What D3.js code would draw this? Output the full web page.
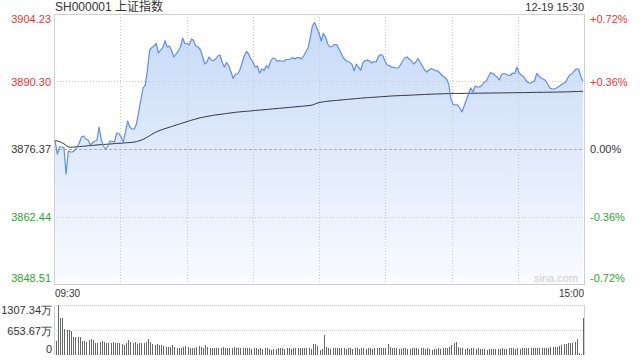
<!DOCTYPE html>
<html>
<head>
<meta charset="utf-8">
<script src="https://cdn.jsdelivr.net/npm/d3@7"></script>
<style>
  body { margin: 0; background: #fff; }
  svg { display: block; font-family: Arial, "Liberation Sans", "Noto Sans CJK SC", sans-serif; }
</style>
</head>
<body>
<div id="chart"></div>
<script>
// header / ticks
const symbolName = 'SH000001 上证指数';
const stamp = '12-19 15:30';
const prevClose = 3876.37;
const timeLabels = ['09:30', '15:00'];
const priceTicks = [3904.23, 3890.30, 3876.37, 3862.44, 3848.51];
const pctTicks = ['+0.72%', '+0.36%', '0.00%', '-0.36%', '-0.72%'];
const volTicks = [1307.34, 653.67, 0];
const volTickLabels = ['1307.34万', '653.67万', '0'];
const gridMinutes = [30, 60, 90, 120, 150, 180, 210];

// one value per minute, 09:30 .. 15:00 (241 points)
const price = [
  3878.08,3875.34,3876.78,3876.78,3876.68,3871.21,3875.96,3875.75,3875.75,3876.16,
  3876.78,3877.61,3878.85,3879.05,3878.43,3878.23,3877.20,3877.61,3878.02,3878.12,
  3880.91,3878.23,3876.99,3876.37,3876.99,3878.02,3877.92,3877.81,3879.67,3879.57,
  3878.85,3877.81,3879.88,3882.15,3880.91,3880.50,3880.50,3881.53,3884.01,3886.48,
  3888.96,3889.58,3892.67,3896.80,3897.32,3897.63,3898.14,3896.18,3896.80,3897.36,
  3898.72,3897.42,3897.63,3896.66,3895.36,3895.98,3896.59,3897.42,3899.28,3898.14,
  3898.14,3897.83,3899.07,3898.76,3897.63,3897.42,3896.90,3895.56,3893.91,3894.32,
  3895.36,3894.74,3894.59,3894.94,3895.56,3895.77,3894.22,3893.29,3894.22,3893.50,
  3892.26,3890.92,3891.85,3891.85,3892.67,3894.12,3895.56,3896.49,3895.98,3894.94,
  3894.32,3893.29,3893.50,3892.05,3892.88,3892.57,3893.56,3893.09,3894.53,3895.15,
  3895.05,3894.43,3894.63,3894.53,3894.43,3894.84,3894.84,3894.94,3895.25,3894.94,
  3895.25,3895.25,3894.94,3895.56,3896.39,3897.21,3899.28,3901.75,3902.48,3901.34,
  3900.31,3898.66,3900.25,3899.42,3898.04,3897.42,3897.52,3897.94,3897.94,3897.11,
  3896.18,3895.25,3894.74,3894.43,3894.26,3893.81,3892.53,3893.91,3893.19,3892.67,
  3894.22,3894.63,3894.70,3894.53,3894.12,3894.43,3894.32,3895.46,3895.87,3895.67,
  3894.53,3893.71,3893.60,3893.23,3893.23,3893.09,3893.09,3893.71,3894.53,3895.15,
  3895.36,3894.94,3894.59,3893.91,3894.32,3895.05,3894.32,3893.50,3892.67,3892.26,
  3892.67,3892.98,3892.78,3892.53,3892.47,3892.05,3891.54,3891.23,3890.82,3889.78,
  3886.69,3885.55,3885.45,3885.49,3884.83,3884.01,3885.24,3886.48,3887.72,3888.96,
  3888.13,3889.37,3889.17,3889.17,3889.47,3890.09,3890.30,3891.23,3892.16,3891.95,
  3891.54,3891.23,3890.61,3891.75,3891.95,3891.85,3891.64,3891.54,3892.05,3891.95,
  3893.29,3892.05,3891.64,3891.33,3890.61,3890.09,3889.93,3890.20,3890.40,3891.95,
  3891.44,3891.02,3890.82,3890.51,3889.78,3888.96,3888.75,3888.75,3888.96,3889.27,
  3889.58,3889.89,3890.09,3890.92,3891.64,3891.85,3892.47,3892.88,3892.88,3891.44,
  3890.30
];

const avgPrice = [
  3878.12,3878.02,3877.90,3877.71,3877.44,3877.09,3876.82,3876.72,3876.74,3876.78,
  3876.82,3876.87,3876.91,3876.95,3876.99,3877.03,3877.07,3877.11,3877.15,3877.20,
  3877.24,3877.28,3877.30,3877.34,3877.36,3877.40,3877.44,3877.48,3877.53,3877.55,
  3877.57,3877.61,3877.63,3877.67,3877.71,3877.75,3877.79,3877.90,3878.02,3878.17,
  3878.35,3878.58,3878.85,3879.11,3879.40,3879.67,3879.90,3880.09,3880.25,3880.41,
  3880.58,3880.72,3880.87,3881.01,3881.16,3881.30,3881.45,3881.59,3881.74,3881.88,
  3882.03,3882.17,3882.31,3882.44,3882.56,3882.69,3882.81,3882.91,3882.99,3883.08,
  3883.16,3883.24,3883.33,3883.39,3883.45,3883.51,3883.57,3883.63,3883.70,3883.76,
  3883.82,3883.88,3883.94,3883.99,3884.03,3884.07,3884.11,3884.15,3884.19,3884.23,
  3884.27,3884.32,3884.36,3884.40,3884.44,3884.48,3884.52,3884.56,3884.60,3884.65,
  3884.69,3884.73,3884.77,3884.81,3884.85,3884.89,3884.93,3884.98,3885.02,3885.06,
  3885.10,3885.14,3885.18,3885.22,3885.27,3885.31,3885.37,3885.45,3885.62,3885.80,
  3885.95,3886.03,3886.11,3886.17,3886.23,3886.28,3886.32,3886.36,3886.40,3886.44,
  3886.48,3886.52,3886.57,3886.61,3886.65,3886.69,3886.73,3886.77,3886.81,3886.85,
  3886.90,3886.94,3886.96,3887.00,3887.02,3887.06,3887.08,3887.12,3887.14,3887.18,
  3887.20,3887.25,3887.27,3887.31,3887.33,3887.35,3887.37,3887.39,3887.41,3887.43,
  3887.45,3887.47,3887.49,3887.51,3887.54,3887.56,3887.58,3887.60,3887.62,3887.64,
  3887.66,3887.68,3887.70,3887.72,3887.74,3887.74,3887.76,3887.78,3887.80,3887.80,
  3887.82,3887.84,3887.84,3887.84,3887.84,3887.84,3887.84,3887.87,3887.87,3887.87,
  3887.87,3887.89,3887.89,3887.89,3887.89,3887.91,3887.91,3887.91,3887.91,3887.93,
  3887.93,3887.93,3887.93,3887.95,3887.95,3887.95,3887.97,3887.97,3887.99,3887.99,
  3887.99,3888.01,3888.01,3888.01,3888.03,3888.03,3888.03,3888.05,3888.05,3888.05,
  3888.07,3888.07,3888.07,3888.09,3888.09,3888.09,3888.11,3888.11,3888.11,3888.13,
  3888.13,3888.15,3888.15,3888.17,3888.17,3888.20,3888.22,3888.22,3888.24,3888.26,
  3888.28
];

// volume, 万
const volume = [
  366,1307,976,976,671,654,654,628,479,479,
  479,462,375,375,349,392,410,392,322,305,
  349,366,349,322,305,305,349,322,305,322,
  288,261,322,392,349,322,349,288,305,322,
  305,349,410,349,288,261,288,261,261,244,
  218,218,218,261,218,192,192,192,218,244,
  218,174,192,174,218,235,218,174,261,218,
  192,192,174,192,174,174,218,192,174,174,
  192,218,174,192,174,192,174,174,192,157,
  174,174,157,174,157,174,192,157,131,148,
  157,174,192,174,157,174,192,157,174,174,
  174,192,174,174,192,174,157,288,288,235,
  131,148,523,218,174,157,174,174,174,192,
  174,192,157,174,174,157,174,174,157,174,
  174,157,174,174,157,174,174,192,174,192,
  174,288,218,174,192,174,157,157,174,174,
  157,157,192,174,174,157,174,174,157,174,
  157,131,148,157,174,157,174,192,192,218,
  261,305,349,218,174,192,157,174,148,192,
  174,157,174,157,157,148,131,157,157,157,
  157,157,157,174,157,157,174,174,192,157,
  174,157,174,192,174,192,174,192,174,192,
  174,192,174,192,192,218,218,218,218,235,
  261,288,288,305,305,322,349,410,61,26,
  976
];

const W = 640, H = 360;
const m = { left: 54, right: 584, top: 14, bottom: 284 };
const vTop = 305, vBottom = 355;
const red = '#f03232', green = '#2aa82a', text = '#333';

const svg = d3.select('#chart').append('svg')
  .attr('width', W)
  .attr('height', H);

const x = d3.scalePoint()
  .domain(d3.range(price.length))
  .range([m.left, m.right])
  .padding(0.5);

const xGrid = d3.scaleLinear().domain([0, 240]).range([m.left, m.right]);

const y = d3.scaleLinear()
  .domain([priceTicks[priceTicks.length - 1], priceTicks[0]])
  .range([m.bottom, m.top]);

const yv = d3.scaleLinear()
  .domain([0, volTicks[0]])
  .range([vBottom, vTop]);

// gradient fill under the line
const grad = svg.append('defs').append('linearGradient')
  .attr('id', 'fill')
  .attr('gradientUnits', 'userSpaceOnUse')
  .attr('x1', 0).attr('y1', m.top)
  .attr('x2', 0).attr('y2', m.bottom);
grad.append('stop').attr('offset', 0).attr('stop-color', '#c6d9f7');
grad.append('stop').attr('offset', 1).attr('stop-color', '#f9fbff');

const area = d3.area()
  .x((d, i) => x(i))
  .y0(m.bottom)
  .y1(d => y(d));

svg.append('path')
  .datum(price)
  .attr('fill', 'url(#fill)')
  .attr('d', area);

// grid
const grid = svg.append('g');
gridMinutes.forEach(t => {
  const gx = Math.round(xGrid(t)) + 0.5;
  grid.append('line')
    .attr('x1', gx).attr('x2', gx)
    .attr('y1', m.top).attr('y2', m.bottom)
    .attr('stroke', '#c8c8c8')
    .attr('stroke-dasharray', '1,2');
});
priceTicks.slice(1, -1).forEach(v => {
  const gy = Math.round(y(v)) + 0.5;
  grid.append('line')
    .attr('x1', m.left).attr('x2', m.right)
    .attr('y1', gy).attr('y2', gy)
    .attr('stroke', v === prevClose ? '#aaa' : '#c8c8c8')
    .attr('stroke-dasharray', v === prevClose ? '3,2' : '1,2');
});

// frame
svg.append('rect')
  .attr('x', m.left + 0.5).attr('y', m.top + 0.5)
  .attr('width', m.right - m.left).attr('height', m.bottom - m.top)
  .attr('fill', 'none')
  .attr('stroke', '#cfcfcf');

// watermark
svg.append('text')
  .attr('x', 578).attr('y', 282)
  .attr('text-anchor', 'end')
  .attr('font-size', '11px')
  .attr('fill', '#cfcfcf')
  .text('sina.com');

// average line
svg.append('path')
  .datum(avgPrice)
  .attr('fill', 'none')
  .attr('stroke', '#333')
  .attr('stroke-width', 1)
  .attr('d', d3.line().x((d, i) => x(i)).y(d => y(d)));

// price line
svg.append('path')
  .datum(price)
  .attr('fill', 'none')
  .attr('stroke', '#5b8def')
  .attr('stroke-width', 1.2)
  .attr('stroke-linejoin', 'round')
  .attr('d', d3.line().x((d, i) => x(i)).y(d => y(d)));

// price axis (left)
const colorOf = v => v > prevClose ? red : (v < prevClose ? green : text);
const shift = i => i === 0 ? 5 : (i === priceTicks.length - 1 ? -6 : 0);

const left = svg.append('g')
  .attr('transform', `translate(${m.left},0)`)
  .call(d3.axisLeft(y).tickValues(priceTicks).tickSize(0).tickPadding(3).tickFormat(d3.format('.2f')));
left.select('.domain').remove();
left.selectAll('text')
  .attr('font-size', '11px')
  .attr('font-family', null)
  .attr('fill', d => colorOf(d))
  .attr('transform', (d, i) => `translate(0,${shift(i)})`);

// percent axis (right)
const right = svg.append('g')
  .attr('transform', `translate(${m.right + 3},0)`)
  .call(d3.axisRight(y).tickValues(priceTicks).tickSize(0).tickPadding(3).tickFormat((d, i) => pctTicks[i]));
right.select('.domain').remove();
right.selectAll('text')
  .attr('font-size', '11px')
  .attr('font-family', null)
  .attr('fill', d => colorOf(d))
  .attr('transform', (d, i) => `translate(0,${shift(i)})`);

// header
svg.append('text')
  .attr('x', 55).attr('y', 11)
  .attr('font-size', '12px')
  .attr('fill', text)
  .text(symbolName);
svg.append('text')
  .attr('x', m.right).attr('y', 11)
  .attr('text-anchor', 'end')
  .attr('font-size', '11px')
  .attr('fill', text)
  .text(stamp);

// time labels
svg.append('text')
  .attr('x', 55).attr('y', 297)
  .attr('font-size', '10px')
  .attr('fill', text)
  .text(timeLabels[0]);
svg.append('text')
  .attr('x', m.right).attr('y', 297)
  .attr('text-anchor', 'end')
  .attr('font-size', '10px')
  .attr('fill', text)
  .text(timeLabels[1]);

// volume panel
const vol = svg.append('g');
volTicks.slice(0, 2).forEach(v => {
  const gy = Math.round(yv(v)) + 0.5;
  vol.append('line')
    .attr('x1', m.left).attr('x2', m.right)
    .attr('y1', gy).attr('y2', gy)
    .attr('stroke', '#c8c8c8')
    .attr('stroke-dasharray', '1,1');
});
[m.left, m.right].forEach(bx => {
  vol.append('line')
    .attr('x1', bx + 0.5).attr('x2', bx + 0.5)
    .attr('y1', vTop).attr('y2', vBottom)
    .attr('stroke', '#cfcfcf');
});

vol.selectAll('.bar')
  .data(volume)
  .enter().append('rect')
  .attr('class', 'bar')
  .attr('x', (d, i) => Math.floor(x(i)) + 1)
  .attr('y', d => Math.round(yv(d)))
  .attr('width', 1)
  .attr('height', d => vBottom - Math.round(yv(d)))
  .attr('fill', '#666');

const vShift = [4.5, 1, -6];
const vAxis = svg.append('g')
  .attr('transform', `translate(${m.left},0)`)
  .call(d3.axisLeft(yv).tickValues(volTicks).tickSize(0).tickPadding(2).tickFormat((d, i) => volTickLabels[i]));
vAxis.select('.domain').remove();
vAxis.selectAll('text')
  .attr('font-size', '11px')
  .attr('font-family', null)
  .attr('fill', text)
  .attr('transform', (d, i) => `translate(0,${vShift[i]})`);
</script>
</body>
</html>
